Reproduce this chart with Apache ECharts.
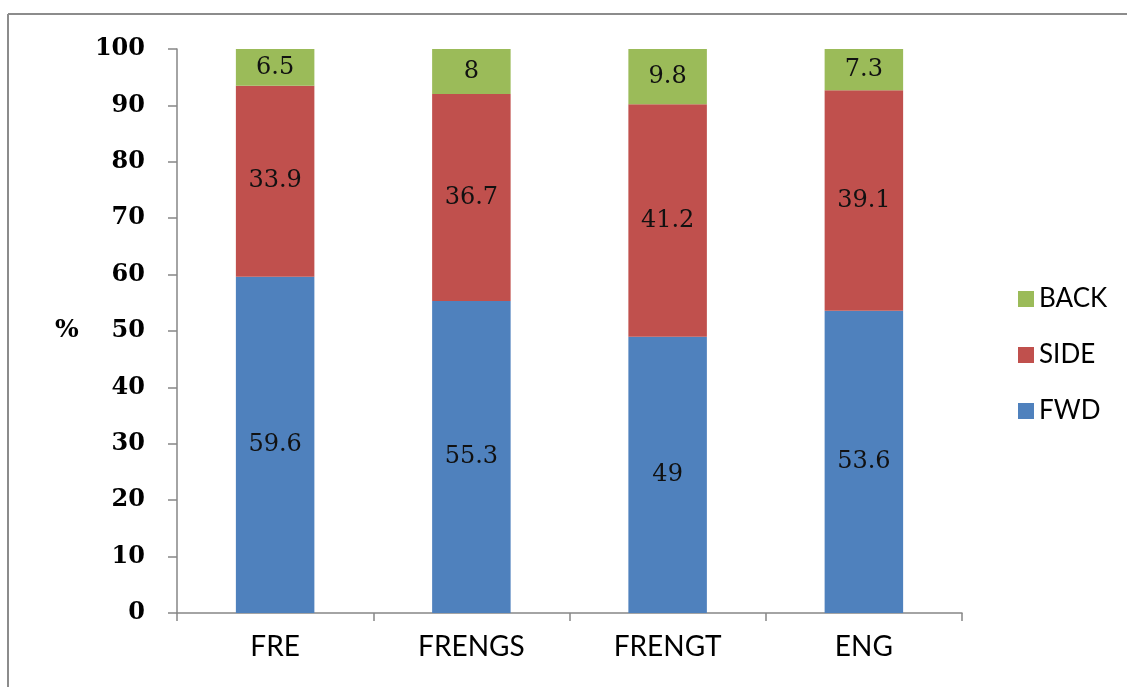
<!DOCTYPE html>
<html>
<head>
<meta charset="utf-8">
<script src="https://cdn.jsdelivr.net/npm/echarts@6/dist/echarts.min.js"></script>
<style>
  html, body { margin: 0; padding: 0; background: #ffffff; }
  #chart { width: 1127px; height: 687px; }
</style>
</head>
<body>
<div id="chart"></div>
<script>
// Share of movement direction (%) by group
const categories = ['FRE', 'FRENGS', 'FRENGT', 'ENG'];
const fwdValues  = [59.6, 55.3, 49, 53.6];
const sideValues = [33.9, 36.7, 41.2, 39.1];
const backValues = [6.5, 8, 9.8, 7.3];
const yTicks = { min: 0, max: 100, interval: 10 };

const numFont = "'DejaVu Serif', 'Liberation Serif', serif";
const textFont = "Lato, 'Liberation Sans', sans-serif";

const chart = echarts.init(document.getElementById('chart'), null, { renderer: 'canvas' });

function stackSeries(name, data, color) {
  return {
    name: name,
    type: 'bar',
    stack: 'total',
    data: data,
    barWidth: '40%',
    itemStyle: { color: color },
    label: {
      show: true,
      position: 'inside',
      color: '#111111',
      fontFamily: numFont,
      fontSize: 24,
      formatter: p => String(p.value)
    },
    emphasis: { disabled: true }
  };
}

chart.setOption({
  animation: false,
  backgroundColor: '#ffffff',
  grid: { left: 177, right: 165, top: 49, bottom: 74, containLabel: false },
  legend: {
    orient: 'vertical',
    left: 1013,
    top: 281,
    itemWidth: 16,
    itemHeight: 16,
    itemGap: 30,
    icon: 'rect',
    data: ['BACK', 'SIDE', 'FWD'],
    textStyle: { fontFamily: textFont, fontSize: 26, color: '#000000', padding: [0, 0, 0, 0] }
  },
  xAxis: {
    type: 'category',
    data: categories,
    boundaryGap: true,
    axisLine: { show: true, lineStyle: { color: '#868686', width: 1.5 } },
    axisTick: { show: true, length: 8, lineStyle: { color: '#868686', width: 1.5 } },
    axisLabel: { margin: 20, color: '#000000', fontFamily: textFont, fontSize: 28 },
    splitLine: { show: false }
  },
  yAxis: {
    type: 'value',
    min: yTicks.min,
    max: yTicks.max,
    interval: yTicks.interval,
    axisLine: { show: true, lineStyle: { color: '#868686', width: 1.5 } },
    axisTick: { show: true, length: 9, lineStyle: { color: '#868686', width: 1.5 } },
    axisLabel: { margin: 32, color: '#000000', fontFamily: numFont, fontWeight: 'bold', fontSize: 24 },
    splitLine: { show: false }
  },
  graphic: [
    { type: 'line', shape: { x1: 8, y1: 14, x2: 1127, y2: 14 }, style: { stroke: '#8c8c8c', lineWidth: 2 } },
    { type: 'line', shape: { x1: 8, y1: 14, x2: 8, y2: 687 }, style: { stroke: '#8c8c8c', lineWidth: 2 } },
    { type: 'text', left: 55, top: 318, style: { text: '%', font: "bold 25px " + numFont, fill: '#000000' } }
  ],
  series: [
    stackSeries('FWD', fwdValues, '#4F81BD'),
    stackSeries('SIDE', sideValues, '#C0504D'),
    stackSeries('BACK', backValues, '#9BBB59')
  ]
});
</script>
</body>
</html>
